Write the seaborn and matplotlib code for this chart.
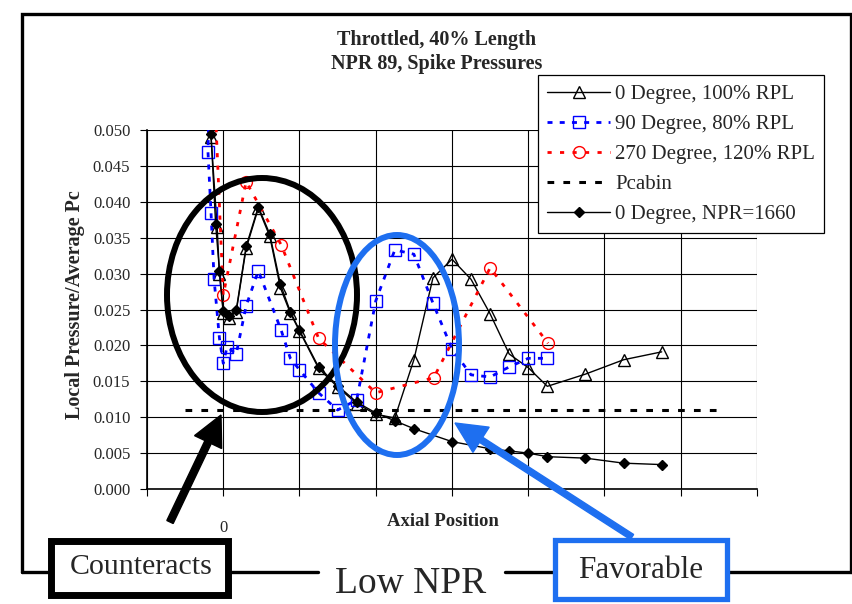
import numpy as np
import matplotlib
matplotlib.use('Agg')
import matplotlib.pyplot as plt
import seaborn as sns
from matplotlib.patches import Ellipse, Rectangle, FancyArrow
from matplotlib.lines import Line2D
from matplotlib.transforms import Affine2D

# ---------------- data ----------------
tri_x = [-0.16, -0.08, -0.05, 0.0, 0.07, 0.17, 0.30, 0.46, 0.61, 0.75, 0.88, 1.0, 1.25, 1.5,
         1.75, 2.0, 2.25, 2.5, 2.75, 3.0, 3.25, 3.5, 3.75, 4.0, 4.25, 4.75, 5.25, 5.75]
tri_y = [0.0490, 0.0365, 0.0300, 0.0245, 0.0238, 0.0247, 0.0335, 0.0391, 0.0352, 0.0280, 0.0245,
         0.0220, 0.0168, 0.0142, 0.0119, 0.0104, 0.0099, 0.0180, 0.0294, 0.0320, 0.0292, 0.0244,
         0.0188, 0.0169, 0.0143, 0.0160, 0.0180, 0.0191]

blue_x = [-0.19, -0.2, -0.16, -0.12, -0.05, 0.0, 0.05, 0.17, 0.30, 0.46, 0.76, 0.88, 1.0, 1.25,
          1.5, 1.75, 2.0, 2.25, 2.5, 2.75, 3.0, 3.25, 3.5, 3.75, 4.0, 4.25]
blue_y = [0.0520, 0.0469, 0.0384, 0.0292, 0.0210, 0.0175, 0.0198, 0.0188, 0.0255, 0.0304, 0.0221,
          0.0182, 0.0166, 0.0134, 0.0110, 0.0124, 0.0262, 0.0333, 0.0327, 0.0259, 0.0195, 0.0159,
          0.0156, 0.0170, 0.0182, 0.0182]

red_x = [-0.10, 0.0, 0.30, 0.76, 1.25, 2.0, 2.76, 3.5, 4.26]
red_y = [0.0520, 0.0270, 0.0428, 0.0340, 0.0210, 0.0134, 0.0155, 0.0308, 0.0203]

pcabin_x = [-0.5, 6.5]
pcabin_y = [0.011, 0.011]

dia_x = [-0.17, -0.16, -0.10, -0.05, 0.0, 0.07, 0.17, 0.30, 0.46, 0.61, 0.75, 0.88, 1.0, 1.25,
         1.5, 1.75, 2.0, 2.25, 2.5, 3.0, 3.5, 3.75, 4.0, 4.25, 4.75, 5.25, 5.75]
dia_y = [0.0620, 0.0494, 0.0369, 0.0304, 0.0248, 0.0241, 0.0249, 0.0338, 0.0393, 0.0355, 0.0285,
         0.0247, 0.0221, 0.0170, 0.0144, 0.0121, 0.0106, 0.0095, 0.0084, 0.0066, 0.0056, 0.0053,
         0.0050, 0.0045, 0.0043, 0.0036, 0.0034]

labels = ['0 Degree, 100% RPL', '90 Degree, 80% RPL', '270 Degree, 120% RPL', 'Pcabin',
          '0 Degree, NPR=1660']
y_ticks = [0.000, 0.005, 0.010, 0.015, 0.020, 0.025, 0.030, 0.035, 0.040, 0.045, 0.050]
x_ticks = [-1, 0, 1, 2, 3, 4, 5, 6, 7]
x_ticklabels = ['', '0', '', '', '', '', '', '', '']

# ---------------- style ----------------
sns.set_style('white')
plt.rcParams['font.family'] = ['Liberation Serif', 'DejaVu Serif']

W, H = 853, 604
fig = plt.figure(figsize=(W / 100, H / 100), dpi=100)
ax = fig.add_axes([147 / W, 1 - 489 / H, (757 - 147) / W, (489 - 130) / H])

BLUE = '#1E6FF0'

sns.lineplot(x=tri_x, y=tri_y, ax=ax, sort=False, estimator=None, label=labels[0],
             color='black', lw=1, marker='^', ms=9, mfc='none', mec='black', mew=1)
sns.lineplot(x=blue_x, y=blue_y, ax=ax, sort=False, estimator=None, label=labels[1],
             color='#0000FF', lw=2.0, linestyle=(0, (1.8, 2.6)), marker='s', ms=8.5,
             mfc='none', mec='#0000FF', mew=1)
sns.lineplot(x=red_x, y=red_y, ax=ax, sort=False, estimator=None, label=labels[2],
             color='#FF0000', lw=2.0, linestyle=(0, (1.5, 3.0)), marker='o', ms=8.5,
             mfc='none', mec='#FF0000', mew=1)
sns.lineplot(x=pcabin_x, y=pcabin_y, ax=ax, sort=False, estimator=None, label=labels[3],
             color='black', lw=2.2, linestyle=(0, (2.2, 3.0)))
sns.lineplot(x=dia_x, y=dia_y, ax=ax, sort=False, estimator=None, label=labels[4],
             color='black', lw=1, marker='D', ms=5.5, mfc='black', mec='black', mew=1)

ax.set_xlim(-1, 7)
ax.set_ylim(0, 0.050)
ax.set_yticks(y_ticks)
ax.set_yticklabels([f'{v:.3f}' for v in y_ticks])
ax.set_xticks(x_ticks)
ax.set_xticklabels(x_ticklabels)
ax.set_xlabel('')
ax.set_ylabel('')
ax.grid(True, color='black', lw=0.8)
ax.set_axisbelow(True)
for s in ['top', 'right']:
    ax.spines[s].set_visible(False)
for s in ['left', 'bottom']:
    ax.spines[s].set_color('black')
    ax.spines[s].set_linewidth(1.2)
ax.tick_params(axis='both', direction='out', length=5, width=0.8, color='black',
               labelsize=12, left=True, bottom=True)
ax.tick_params(axis='y', pad=7)
ax.tick_params(axis='x', pad=17)

handles = ax.get_lines()[:5]
leg = ax.legend(handles, labels, loc='upper left', bbox_to_anchor=(538 / W, 1 - 75 / H),
                bbox_transform=fig.transFigure, fontsize=15, frameon=True, fancybox=False,
                framealpha=1, edgecolor='black', handlelength=3.0, handletextpad=0.25,
                labelspacing=0.5, borderpad=0.45, borderaxespad=0)
leg.get_frame().set_linewidth(0.9)

# ---------------- texts ----------------
def fx(x):
    return x / W

def fy(y):
    return 1 - y / H

fig.text(fx(437), fy(40), 'Throttled, 40% Length', ha='center', va='center',
         fontsize=14.5, fontweight='bold')
fig.text(fx(437), fy(64), 'NPR 89, Spike Pressures', ha='center', va='center',
         fontsize=14.5, fontweight='bold')
fig.text(fx(75), fy(305), 'Local Pressure/Average Pc', ha='center', va='center',
         rotation=90, fontsize=14.5, fontweight='bold')
fig.text(fx(443), fy(521), 'Axial Position', ha='center', va='center',
         fontsize=13.5, fontweight='bold')

# ---------------- annotations (pixel coordinates) ----------------
px = Affine2D().scale(1 / W, -1 / H).translate(0, 1) + fig.transFigure

# outer frame
fig.add_artist(Line2D([22, 22, 851, 851], [572, 14, 14, 572], color='black', lw=2.4,
                      transform=px, solid_joinstyle='miter'))
fig.add_artist(Line2D([22, 318], [572, 572], color='black', lw=2.4, transform=px))
fig.add_artist(Line2D([505, 851], [572, 572], color='black', lw=2.4, transform=px))

# ellipses
fig.add_artist(Ellipse((262, 295), 190, 234, fill=False, edgecolor='black', lw=4.3,
                       transform=px, zorder=5))
fig.add_artist(Ellipse((397, 345), 124, 220, fill=False, edgecolor=BLUE, lw=4.3,
                       transform=px, zorder=5))

# arrows
fig.add_artist(FancyArrow(170, 522, 51, -107, width=7, head_width=30, head_length=30,
                          length_includes_head=True, color='black', transform=px, zorder=6))
fig.add_artist(FancyArrow(632, 537, -177, -114, width=6, head_width=30, head_length=31,
                          length_includes_head=True, color=BLUE, transform=px, zorder=6))

# boxes
fig.add_artist(Rectangle((48 + 3.5, 537 + 3.5), 184 - 7, 61 - 7, facecolor='white',
                         edgecolor='black', lw=5, transform=px, zorder=7))
fig.text(fx(141), fy(567), 'Counteracts', ha='center', va='center', fontsize=21.5, zorder=8)
fig.add_artist(Rectangle((553 + 2.5, 537 + 2.5), 177 - 5, 64 - 5, facecolor='white',
                         edgecolor=BLUE, lw=3.8, transform=px, zorder=7))
fig.text(fx(641), fy(571), 'Favorable', ha='center', va='center', fontsize=22.5, zorder=8)
fig.text(fx(411), fy(584), 'Low NPR', ha='center', va='center', fontsize=27, zorder=8)

fig.savefig('out.png', dpi=100)
